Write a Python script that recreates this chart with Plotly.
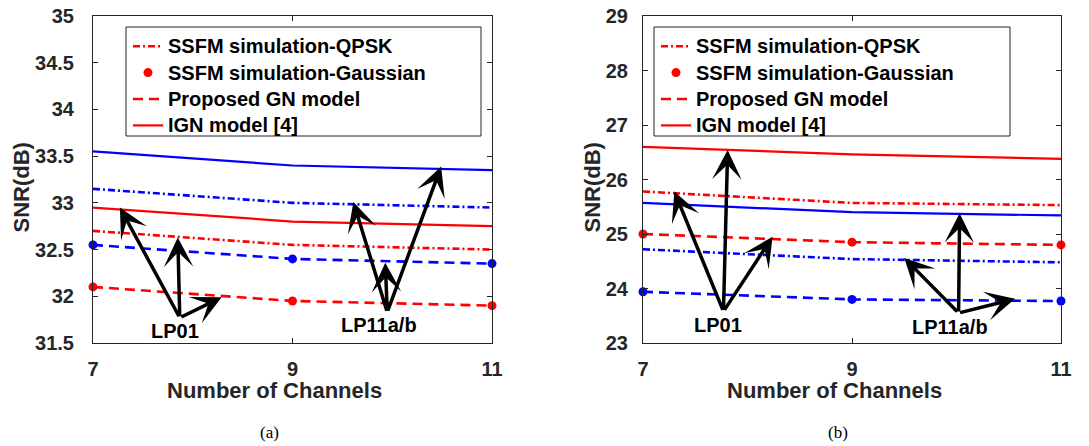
import plotly.graph_objects as go

# ---------------- data ----------------
channels = [7, 9, 11]

# panel (a)
a_lp01_qpsk = [32.70, 32.55, 32.50]
a_lp01_gauss = [32.10, 31.95, 31.90]
a_lp01_gn = [32.10, 31.95, 31.90]
a_lp01_ign = [32.95, 32.80, 32.75]
a_lp11_qpsk = [33.15, 33.00, 32.95]
a_lp11_gauss = [32.55, 32.40, 32.35]
a_lp11_gn = [32.55, 32.40, 32.35]
a_lp11_ign = [33.55, 33.40, 33.35]

# panel (b)
b_lp01_qpsk = [25.78, 25.57, 25.53]
b_lp01_gauss = [25.00, 24.85, 24.80]
b_lp01_gn = [25.00, 24.85, 24.80]
b_lp01_ign = [26.60, 26.46, 26.38]
b_lp11_qpsk = [24.72, 24.54, 24.48]
b_lp11_gauss = [23.94, 23.80, 23.77]
b_lp11_gn = [23.94, 23.80, 23.77]
b_lp11_ign = [25.57, 25.40, 25.34]

legend_names = ["SSFM simulation-QPSK", "SSFM simulation-Gaussian",
                "Proposed GN model", "IGN model [4]"]

a_yticks = [31.5, 32, 32.5, 33, 33.5, 34, 34.5, 35]
a_yticktext = ["31.5", "32", "32.5", "33", "33.5", "34", "34.5", "35"]
b_yticks = [23, 24, 25, 26, 27, 28, 29]
b_yticktext = ["23", "24", "25", "26", "27", "28", "29"]
x_ticks = [7, 9, 11]
x_ticktext = ["7", "9", "11"]

# arrow annotations: (tail_x, tail_y, head_x, head_y)
a_arrows_lp01 = [(7.87, 31.77, 7.27, 32.95), (7.87, 31.77, 7.85, 32.63), (7.87, 31.77, 8.29, 31.99)]
a_arrows_lp11 = [(9.95, 31.83, 9.61, 33.01), (9.95, 31.83, 9.93, 32.36), (9.95, 31.83, 10.49, 33.39)]
b_arrows_lp01 = [(7.77, 23.58, 7.30, 25.78), (7.77, 23.58, 7.81, 26.54), (7.77, 23.58, 8.24, 24.95)]
b_arrows_lp11 = [(10.02, 23.55, 9.50, 24.56), (10.02, 23.55, 10.03, 25.38), (10.02, 23.55, 10.56, 23.81)]
a_labels = [("LP01", 7.82, 31.63), ("LP11a/b", 9.87, 31.69)]
b_labels = [("LP01", 7.72, 23.33), ("LP11a/b", 9.94, 23.30)]

# ---------------- figure ----------------
RED = "#FF0000"
BLUE = "#0000FF"
FONT = "Liberation Sans"
W, H = 1089, 446
DASH = "10px,6px"
DASHDOT = "7px,3px,2px,3px"

fig = go.Figure()


def add_panel(xa, ya, legend, red, blue):
    qpsk_r, gauss_r, gn_r, ign_r = red
    qpsk_b, gauss_b, gn_b, ign_b = blue
    # blue (not in legend)
    fig.add_trace(go.Scatter(x=channels, y=ign_b, mode="lines", line=dict(color=BLUE, width=2.2),
                             xaxis=xa, yaxis=ya, showlegend=False))
    fig.add_trace(go.Scatter(x=channels, y=qpsk_b, mode="lines", line=dict(color=BLUE, width=2.6, dash=DASHDOT),
                             xaxis=xa, yaxis=ya, showlegend=False))
    fig.add_trace(go.Scatter(x=channels, y=gn_b, mode="lines", line=dict(color=BLUE, width=2.6, dash=DASH),
                             xaxis=xa, yaxis=ya, showlegend=False))
    fig.add_trace(go.Scatter(x=channels, y=gauss_b, mode="markers", marker=dict(color=BLUE, size=9),
                             xaxis=xa, yaxis=ya, showlegend=False, cliponaxis=False))
    # red (legend)
    styles = [
        dict(mode="lines", line=dict(color=RED, width=2.6, dash=DASHDOT), y=qpsk_r),
        dict(mode="markers", marker=dict(color=RED, size=9), y=gauss_r, cliponaxis=False),
        dict(mode="lines", line=dict(color=RED, width=2.6, dash=DASH), y=gn_r),
        dict(mode="lines", line=dict(color=RED, width=2.2), y=ign_r),
    ]
    for i, (name, st) in enumerate(zip(legend_names, styles)):
        fig.add_trace(go.Scatter(x=channels, name='<span style="font-size:20px">' + name + '</span>',
                                 xaxis=xa, yaxis=ya, legend=legend, legendrank=i + 1, **st))


add_panel("x", "y", "legend",
          (a_lp01_qpsk, a_lp01_gauss, a_lp01_gn, a_lp01_ign),
          (a_lp11_qpsk, a_lp11_gauss, a_lp11_gn, a_lp11_ign))
add_panel("x2", "y2", "legend2",
          (b_lp01_qpsk, b_lp01_gauss, b_lp01_gn, b_lp01_ign),
          (b_lp11_qpsk, b_lp11_gauss, b_lp11_gn, b_lp11_ign))

ydom = [1 - 343 / H, 1 - 16 / H]
axis_common = dict(showgrid=False, zeroline=False, showline=True, linecolor="#262626", linewidth=1,
                   mirror="ticks", ticks="inside", ticklen=5, tickcolor="#262626", automargin=False,
                   tickfont=dict(family=FONT, size=20, color="#262626", weight="bold"))

legend_common = dict(xanchor="left", yanchor="top", bgcolor="rgba(0,0,0,0)", borderwidth=0,
                     font=dict(family=FONT, size=18, color="black", weight="bold"),
                     itemwidth=30, tracegroupgap=0)

fig.update_layout(
    width=W, height=H, margin=dict(l=0, r=0, t=0, b=0, autoexpand=False),
    paper_bgcolor="white", plot_bgcolor="white",
    xaxis=dict(domain=[93 / W, 492 / W], range=[7, 11], tickvals=x_ticks, ticktext=x_ticktext,
               anchor="y", ticklabelstandoff=8, **axis_common),
    yaxis=dict(domain=ydom, range=[31.5, 35], tickvals=a_yticks, ticktext=a_yticktext,
               anchor="x", ticklabelstandoff=14, **axis_common),
    xaxis2=dict(domain=[643 / W, 1061 / W], range=[7, 11], tickvals=x_ticks, ticktext=x_ticktext,
                anchor="y2", ticklabelstandoff=8, **axis_common),
    yaxis2=dict(domain=ydom, range=[23, 29], tickvals=b_yticks, ticktext=b_yticktext,
                anchor="x2", ticklabelstandoff=10, **axis_common),
    legend=dict(x=128 / W, y=1 - 28 / H, **legend_common),
    legend2=dict(x=656 / W, y=1 - 28 / H, **legend_common),
    showlegend=True,
)

# legend boxes
for x0, x1 in [(126, 481), (654, 1010)]:
    fig.add_shape(type="rect", xref="paper", yref="paper", x0=x0 / W, x1=x1 / W,
                  y0=1 - 136 / H, y1=1 - 27 / H, line=dict(color="#262626", width=1),
                  fillcolor="white", layer="below")

# arrows
for xr, yr, arrows in [("x", "y", a_arrows_lp01 + a_arrows_lp11), ("x2", "y2", b_arrows_lp01 + b_arrows_lp11)]:
    for tx, ty, hx, hy in arrows:
        fig.add_annotation(x=hx, y=hy, ax=tx, ay=ty, xref=xr, yref=yr, axref=xr, ayref=yr,
                           text="", showarrow=True, arrowhead=3, arrowsize=1.4, arrowwidth=3.5,
                           arrowcolor="black")

for xr, yr, labels in [("x", "y", a_labels), ("x2", "y2", b_labels)]:
    for t, lx, ly in labels:
        fig.add_annotation(x=lx, y=ly, xref=xr, yref=yr, text=t, showarrow=False,
                           xanchor="center", yanchor="middle",
                           font=dict(family=FONT, size=20, color="black", weight="bold"))

# axis titles and captions
title_font = dict(family=FONT, size=22, color="#262626", weight="bold")
paper_texts = [
    ("SNR(dB)", 21, 187.5, -90, title_font),
    ("SNR(dB)", 592, 187.5, -90, title_font),
    ("Number of Channels", 274, 390, 0, title_font),
    ("Number of Channels", 834, 390, 0, title_font),
    ("(a)", 269, 432, 0, dict(family="Liberation Serif", size=17, color="black")),
    ("(b)", 838, 432, 0, dict(family="Liberation Serif", size=17, color="black")),
]
for t, px, py, ang, f in paper_texts:
    fig.add_annotation(x=px / W, y=1 - py / H, xref="paper", yref="paper", text=t,
                       textangle=ang, showarrow=False, xanchor="center", yanchor="middle", font=f)

fig.write_html("out.html", post_script="document.body.style.margin='0px';",
               config={"displayModeBar": False})
